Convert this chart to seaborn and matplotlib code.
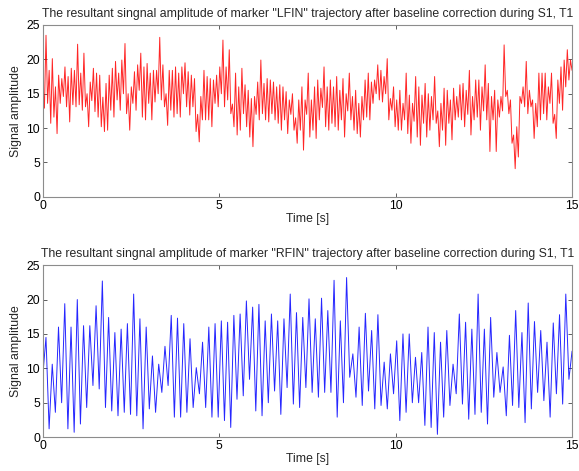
import numpy as np
import pandas as pd
import matplotlib
matplotlib.use("Agg")
import matplotlib.pyplot as plt
import seaborn as sns

# Peak / trough amplitudes, in time order (0 - 15 s)
lfin_amp = [
    16.5, 12.9, 23.5, 13.6, 18.4, 10.7, 20.1, 11.6, 16.0, 9.2, 17.7, 13.6, 17.2, 14.6,
    18.9, 13.1, 17.5, 10.9, 18.7, 13.4, 18.4, 13.1, 22.2, 13.4, 18.0, 12.6, 20.9, 13.1,
    15.0, 10.2, 16.7, 14.0, 18.7, 12.4, 18.0, 11.6, 17.7, 10.2, 14.5, 9.5, 16.5, 9.7,
    17.7, 12.6, 18.7, 11.6, 19.7, 14.1, 18.0, 12.6, 19.9, 15.0, 22.3, 12.1, 15.0, 9.7,
    16.0, 13.6, 18.2, 12.6, 19.2, 15.5, 20.9, 11.6, 18.9, 11.2, 19.4, 13.6, 18.0, 11.2,
    18.4, 13.8, 18.4, 15.0, 23.2, 14.1, 19.2, 13.1, 15.0, 10.4, 18.4, 12.6, 18.4, 11.6,
    18.9, 12.1, 18.0, 11.6, 18.9, 15.0, 19.5, 13.1, 18.2, 11.9, 17.7, 13.1, 17.2, 9.5,
    12.0, 8.0, 14.6, 11.2, 18.4, 11.2, 17.5, 11.2, 17.2, 10.2, 17.0, 13.6,
    # 5 s
    17.7, 13.1, 18.9, 15.0, 22.8, 13.1, 18.9, 14.1, 21.4, 12.1, 13.5, 10.2, 18.0, 9.0,
    16.0, 9.7, 18.7, 12.1, 16.3, 10.2, 15.5, 8.7, 14.3, 7.3, 14.6, 12.0, 16.7, 11.2,
    19.9, 12.1, 16.5, 11.2, 17.2, 10.9, 17.0, 12.1, 16.7, 11.2, 16.0, 10.7, 16.3, 9.7,
    16.0, 11.2, 15.3, 9.2, 14.1, 12.0, 15.0, 9.7, 11.5, 7.8, 14.1, 9.7, 16.0, 6.8,
    14.1, 12.0, 18.0, 8.7, 14.1, 9.7, 16.0, 8.5, 17.0, 11.2, 15.8, 13.0, 18.9, 10.2,
    16.0, 9.7, 17.0, 10.7, 16.0, 10.2, 17.5, 9.7, 15.5, 11.2, 17.2, 8.7, 15.0, 12.5,
    18.0, 11.2, 14.6, 9.7, 15.5, 9.2, 13.6, 8.7, 14.6, 11.2, 17.0, 11.6, 18.0, 11.2,
    16.7, 13.6, 17.0, 15.0, 19.2, 14.1, 18.4, 13.8, 17.5,
    # 10 s
    15.0, 20.1, 11.2, 14.3, 12.6, 16.0, 10.2, 14.1, 9.7, 15.5, 9.7, 13.6, 11.2, 18.0,
    9.2, 14.8, 7.8, 13.6, 11.0, 17.5, 8.7, 16.0, 7.5, 14.8, 10.7, 16.5, 8.7, 15.0,
    9.7, 14.6, 11.2, 17.5, 10.7, 12.5, 7.3, 13.6, 9.7, 15.8, 7.5, 15.5, 10.7, 14.1,
    8.3, 15.8, 11.2, 14.6, 11.6, 16.3, 11.2, 16.5, 10.2, 15.5, 12.0, 18.4, 9.0, 14.6,
    11.2, 17.0, 11.6, 17.0, 9.7, 16.0, 12.5, 19.2, 11.2, 16.5, 6.6, 14.6, 11.2, 15.5,
    6.6, 14.1, 11.6, 14.6, 12.5, 22.1, 14.6, 15.5, 12.1, 14.1, 7.8, 9.0, 4.1, 10.2,
    5.8, 14.6, 13.6, 16.0, 13.1, 19.7, 12.1, 15.5, 13.1, 14.1, 8.5, 13.6, 10.2, 18.0,
    11.2, 18.0, 12.1, 18.0, 11.2, 16.0, 13.6, 18.0, 10.7, 12.0, 8.5, 17.0, 13.6, 18.9,
    12.6, 19.9, 16.0, 21.4, 17.0, 19.9, 18.4,
]

rfin_amp = [
    9.0, 14.5, 1.2, 10.6, 3.6, 16.0, 5.0, 19.4, 1.2, 16.0, 0.7, 20.0, 1.9, 16.2,
    4.3, 16.2, 7.5, 19.1, 7.0, 22.7, 4.3, 17.4, 3.8, 15.2, 3.1, 15.7, 3.6, 16.5,
    3.3, 20.8, 3.1, 17.2, 1.2, 16.0, 4.1, 11.8, 3.6, 10.6, 6.5, 13.2, 7.5, 17.7,
    2.9, 17.3, 2.9, 16.5, 3.6, 14.3, 4.3, 10.1, 6.3, 13.8, 4.3, 16.0, 2.9, 16.5,
    # 5 s
    2.9, 16.9, 2.4, 16.7, 1.4, 17.7, 5.5, 17.9, 6.0, 19.8, 8.4, 18.9, 3.8, 19.3,
    3.1, 16.9, 5.0, 17.9, 6.7, 16.9, 3.3, 17.2, 7.2, 20.8, 4.8, 18.1, 4.3, 17.4,
    7.2, 20.1, 6.5, 17.2, 5.8, 20.2, 6.5, 18.4, 6.5, 22.8, 2.9, 16.9, 5.0, 23.2,
    8.7, 12.1, 5.8, 16.0, 4.6, 18.0, 6.7, 15.5, 4.1, 17.8, 4.6, 10.9, 4.1,
    # 10 s
    12.1, 6.3, 14.0, 2.4, 15.0, 3.6, 15.0, 5.0, 11.6, 5.0, 12.3, 1.7, 16.0, 1.4,
    15.2, 0.4, 13.8, 2.9, 15.5, 4.6, 10.6, 6.3, 17.9, 4.8, 16.7, 2.6, 15.7, 3.3,
    20.8, 3.6, 15.7, 1.9, 17.4, 5.8, 12.3, 6.5, 10.2, 3.1, 14.8, 4.6, 18.4, 4.3,
    15.2, 2.1, 19.5, 4.1, 16.8, 6.5, 15.5, 5.3, 13.8, 2.9, 16.6, 6.3, 17.8, 4.8,
    20.8, 8.4, 12.5,
]

x_ticks = [0, 5, 10, 15]
y_ticks = [0, 5, 10, 15, 20, 25]
titles = [
    'The resultant singnal amplitude of marker "LFIN" trajectory after baseline correction during S1, T1',
    'The resultant singnal amplitude of marker "RFIN" trajectory after baseline correction during S1, T1',
]

sns.set_style("white")
plt.rcParams['font.family'] = ['Liberation Sans', 'DejaVu Sans']

fig = plt.figure(figsize=(5.79, 4.71), dpi=100)
ax_top = fig.add_axes([0.074, 0.582, 0.914, 0.365])
ax_bot = fig.add_axes([0.074, 0.072, 0.914, 0.365])

series = [(ax_top, lfin_amp, 'red', titles[0]), (ax_bot, rfin_amp, 'blue', titles[1])]
for ax, amp, color, title in series:
    df = pd.DataFrame({'t': np.linspace(0, 15, len(amp)), 'amp': amp})
    sns.lineplot(data=df, x='t', y='amp', ax=ax, color=color, lw=0.7,
                 estimator=None, alpha=0.85)
    ax.set_xlim(0, 15)
    ax.set_ylim(0, 25)
    ax.set_xticks(x_ticks)
    ax.set_yticks(y_ticks)
    ax.set_title(title, fontsize=8.8, pad=6)
    ax.set_xlabel('Time [s]', fontsize=8.8, labelpad=1)
    ax.set_ylabel('Signal amplitude', fontsize=8.8, labelpad=3)
    ax.tick_params(direction='in', length=3, width=0.6, labelsize=8.8,
                   top=True, right=True, bottom=True, left=True, pad=2,
                   colors='#444444', labelcolor='black')
    for sp in ax.spines.values():
        sp.set_color('#8c8c8c')
        sp.set_linewidth(0.8)

fig.savefig('out.png', dpi=100)
